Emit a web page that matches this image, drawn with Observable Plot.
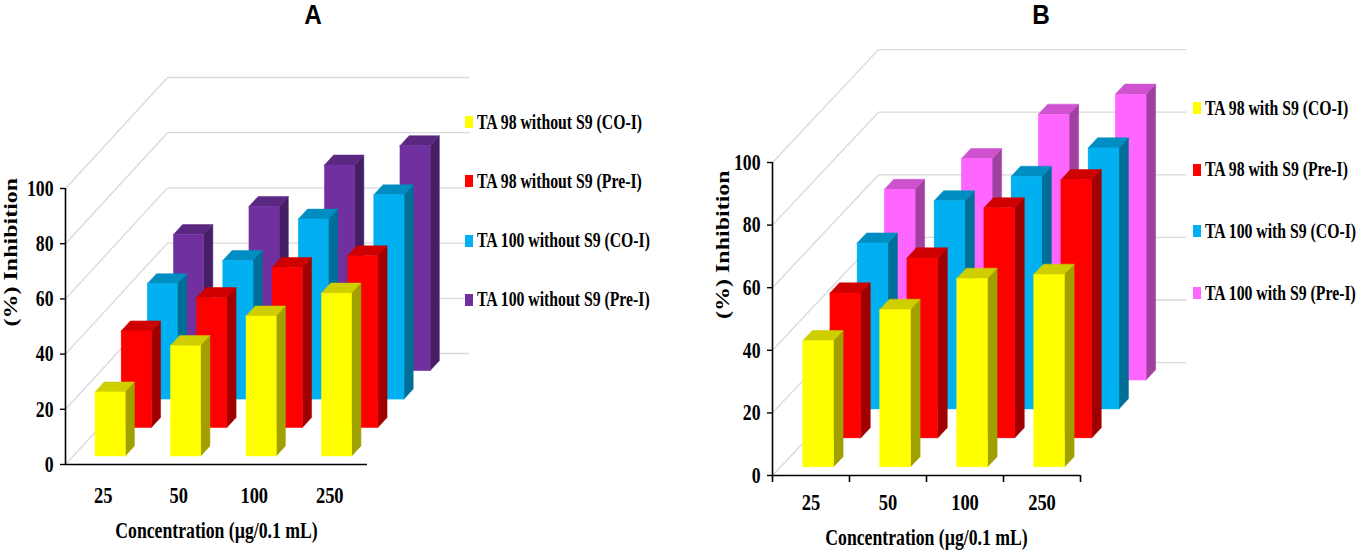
<!DOCTYPE html>
<html><head><meta charset="utf-8">
<script src="https://cdn.jsdelivr.net/npm/d3@7"></script>
<script src="https://cdn.jsdelivr.net/npm/@observablehq/plot@0.6"></script>
<style>
body{margin:0;background:#fff;}
#fig{position:relative;width:1361px;height:550px;overflow:hidden;background:#fff;}
.title{position:absolute;top:1px;width:60px;text-align:center;font:bold 27px 'Liberation Sans',Arial,sans-serif;line-height:1.1;transform:scaleX(0.9);}
.leg{position:absolute;display:flex;align-items:center;height:20px;}
.leg .sw{width:8px;height:12px;margin-right:4px;flex:none;}
.leg .tx{font:bold 21px 'Liberation Serif','Times New Roman',serif;transform:scaleX(0.75);transform-origin:left center;white-space:nowrap;line-height:1;color:#000;}
</style></head><body><div id="fig"></div>
<script>
// ---- data ----
const concentrations = ["25", "50", "100", "250"];
const yTicks = [0, 20, 40, 60, 80, 100];
const xLabel = "Concentration (µg/0.1 mL)";
const yLabel = "(%) Inhibition";

const seriesA = ["TA 98 without S9 (CO-I)", "TA 98 without S9 (Pre-I)", "TA 100 without S9 (CO-I)", "TA 100 without S9 (Pre-I)"];
const seriesB = ["TA 98 with S9 (CO-I)", "TA 98 with S9 (Pre-I)", "TA 100 with S9 (CO-I)", "TA 100 with S9 (Pre-I)"];

const a_TA98_CO  = [23.2, 40.0, 50.7, 59.0];
const a_TA98_Pre = [35.0, 47.1, 58.0, 62.2];
const a_TA100_CO = [41.8, 50.2, 65.2, 74.0];
const a_TA100_Pre= [49.3, 59.5, 74.5, 81.5];

const b_TA98_CO  = [40.3, 50.3, 60.2, 61.5];
const b_TA98_Pre = [46.3, 57.5, 73.5, 82.5];
const b_TA100_CO = [53.0, 66.5, 74.3, 83.4];
const b_TA100_Pre= [60.9, 70.7, 84.9, 91.3];

const colorsA = ["#ffff00", "#ff0000", "#00b0f0", "#7030a0"];
const colorsB = ["#ffff00", "#ff0000", "#00b0f0", "#ff66ff"];

// ---- helpers ----
const SERIF = "'Liberation Serif','Times New Roman',serif";
function squeeze(svg, sx) {
  svg.querySelectorAll("text").forEach(t => {
    let tr = t.getAttribute("transform");
    if (tr && /translate\([^)]*\)/.test(tr)) {
      t.setAttribute("transform", tr.replace(/translate\([^)]*\)/, m => `${m} scale(${sx},1)`));
    } else {
      const x = +(t.getAttribute("x") || 0), y = +(t.getAttribute("y") || 0);
      t.removeAttribute("x"); t.removeAttribute("y");
      t.setAttribute("transform", `translate(${x},${y}) scale(${sx},1)${tr ? " " + tr : ""}`);
    }
  });
}

function panel(cfg) {
  const {values, colors, kx, ky, width, ml, mr, mt, mb, boundaryTicks, yLabelDx, xLabelDy, tickPad} = cfg;
  const WALL = 4, D0 = 0.29, DSTEP = 1.025, DD = 0.36, BW = 0.4;
  const n = concentrations.length;
  const grid = "#d9d9d9";
  const marks = [];
  // side wall + floor diagonals
  marks.push(Plot.link(yTicks, {x1: () => 0, y1: v => v, x2: () => WALL * kx, y2: v => v + WALL * ky, stroke: grid, strokeWidth: 1.3}));
  // back wall horizontals
  marks.push(Plot.link(yTicks, {x1: () => WALL * kx, x2: () => n + WALL * kx, y1: v => v + WALL * ky, y2: v => v + WALL * ky, stroke: grid, strokeWidth: 1.3}));
  // bars, back rows first
  for (let s = values.length - 1; s >= 0; s--) {
    const d0 = D0 + DSTEP * s;
    const c = colors[s];
    const topC = d3.color(c).darker(0.6).formatHex();
    const sideC = d3.color(c).darker(1.3).formatHex();
    const bars = values[s].map((v, i) => ({
      i, v,
      xl: i + 0.5 - BW / 2 + d0 * kx,
      xr: i + 0.5 + BW / 2 + d0 * kx,
      yb: d0 * ky,
      yt: v + d0 * ky
    }));
    const side = bars.flatMap(b => [
      {z: b.i, x: b.xr, y1: b.yb, y2: b.yt},
      {z: b.i, x: b.xr + DD * kx, y1: b.yb + DD * ky, y2: b.yt + DD * ky}
    ]);
    const top = bars.flatMap(b => [
      {z: b.i, y: b.yt, x1: b.xl, x2: b.xr},
      {z: b.i, y: b.yt + DD * ky, x1: b.xl + DD * kx, x2: b.xr + DD * kx}
    ]);
    marks.push(Plot.areaY(side, {x: "x", y1: "y1", y2: "y2", z: "z", fill: sideC, stroke: sideC, strokeWidth: 0.5}));
    marks.push(Plot.areaX(top, {y: "y", x1: "x1", x2: "x2", z: "z", fill: topC, stroke: topC, strokeWidth: 0.5}));
    marks.push(Plot.rect(bars, {x1: "xl", x2: "xr", y1: "yb", y2: "yt", fill: c, stroke: c, strokeWidth: 0.5}));
  }
  // axis lines
  marks.push(Plot.ruleY([0], {x1: () => 0, x2: () => n, stroke: "#000", strokeWidth: 1.6}));
  marks.push(Plot.ruleX([0], {y1: () => 0, y2: () => 100, stroke: "#000", strokeWidth: 1.6}));
  marks.push(Plot.axisY(yTicks, {tickSize: 5, tickPadding: 7, strokeWidth: 1.4, label: null, fontSize: 23, fontFamily: SERIF, fontWeight: "bold", fill: "#000"}));
  marks.push(Plot.axisX(concentrations.map((c, i) => i + 0.5), {tickSize: 0, tickPadding: tickPad, tickFormat: t => concentrations[Math.floor(t)], label: null, fontSize: 24, fontFamily: SERIF, fontWeight: "bold", fill: "#000"}));
  if (boundaryTicks) {
    marks.push(Plot.axisX(d3.range(n + 1), {tickSize: 7, strokeWidth: 1.6, tickFormat: () => "", label: null}));
  }
  marks.push(Plot.text([xLabel], {frameAnchor: "bottom", dy: xLabelDy, lineAnchor: "top", text: d => d, fontSize: 23, fontFamily: SERIF, fontWeight: "bold", fill: "#000"}));
  marks.push(Plot.text([yLabel], {frameAnchor: "left", dx: yLabelDx, rotate: -90, text: d => d, fontSize: 24, fontFamily: SERIF, fontWeight: "bold", fill: "#000"}));

  const svg = Plot.plot({
    width, height: 550,
    marginLeft: ml, marginRight: mr, marginTop: mt, marginBottom: mb,
    x: {type: "linear", domain: [0, n], axis: null},
    y: {type: "linear", domain: [0, 100], axis: null},
    style: {fontFamily: SERIF, fontWeight: "bold", color: "#000", background: "transparent", overflow: "visible"},
    marks
  });
  squeeze(svg, 0.77);
  return svg;
}

function legend(fig, series, colors, x, y0, step) {
  series.forEach((name, k) => {
    const d = document.createElement("div");
    d.className = "leg";
    d.style.left = x + "px";
    d.style.top = (y0 + k * step - 10) + "px";
    const sw = document.createElement("div");
    sw.className = "sw"; sw.style.background = colors[k];
    const tx = document.createElement("span");
    tx.className = "tx"; tx.textContent = name;
    d.append(sw, tx);
    fig.append(d);
  });
}

function title(fig, text, cx) {
  const t = document.createElement("div");
  t.className = "title"; t.textContent = text;
  t.style.left = (cx - 30) + "px";
  fig.append(t);
}

const fig = document.getElementById("fig");

const svgA = panel({
  values: [a_TA98_CO, a_TA98_Pre, a_TA100_CO, a_TA100_Pre], colors: colorsA,
  kx: 25.5 / 75.5, ky: 27.75 / 2.76,
  width: 680, ml: 65, mr: 313, mt: 188, mb: 86,
  boundaryTicks: false, yLabelDx: -54, xLabelDy: 57, tickPad: 21
});
svgA.style.position = "absolute"; svgA.style.left = "0px"; svgA.style.top = "0px";
fig.append(svgA);

const svgB = panel({
  values: [b_TA98_CO, b_TA98_Pre, b_TA100_CO, b_TA100_Pre], colors: colorsB,
  kx: 26.5 / 77, ky: 28.25 / 3.133,
  width: 681, ml: 92, mr: 281, mt: 162, mb: 75,
  boundaryTicks: true, yLabelDx: -49, xLabelDy: 53, tickPad: 17
});
svgB.style.position = "absolute"; svgB.style.left = "680px"; svgB.style.top = "0px";
fig.append(svgB);

title(fig, "A", 313);
title(fig, "B", 1041);
legend(fig, seriesA, colorsA, 465, 122, 59.3);
legend(fig, seriesB, colorsB, 1193, 108, 61.7);
</script></body></html>
